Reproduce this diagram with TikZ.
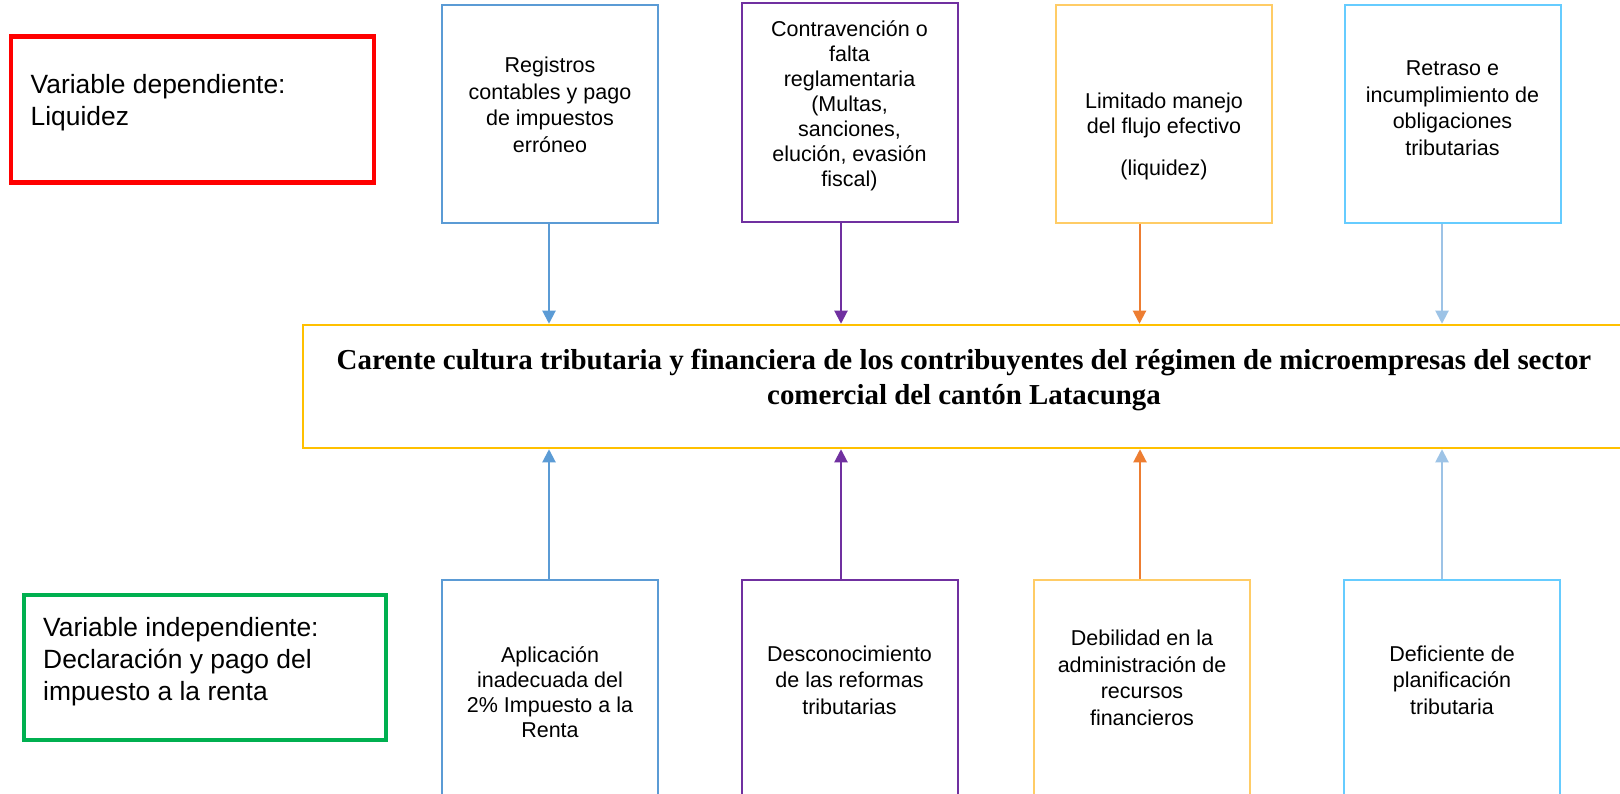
\documentclass[tikz,border=0pt]{standalone}
\usepackage{fontspec}
\setmainfont{Liberation Sans}
\newfontfamily\titulofont{Liberation Serif}
\usetikzlibrary{arrows.meta}

\definecolor{azul}{HTML}{5B9BD5}
\definecolor{morado}{HTML}{7030A0}
\definecolor{ambar}{HTML}{FFCC66}
\definecolor{naranja}{HTML}{ED7D31}
\definecolor{celeste}{HTML}{66CCFF}
\definecolor{celestegris}{HTML}{9DC3E6}
\definecolor{oro}{HTML}{FFC000}
\definecolor{rojo}{HTML}{FF0000}
\definecolor{verde}{HTML}{00B050}

\tikzset{
  caja/.style={draw, rectangle, line width=2pt, inner sep=0pt, minimum width=216pt},
  texto/.style={align=center, inner sep=0pt, font=\fontsize{21.5}{26.5}\selectfont},
  vartexto/.style={align=left, inner sep=0pt, anchor=west, font=\fontsize{26.4}{32}\selectfont},
  flecha/.style={-{Triangle[length=13pt,width=13pt]}, line width=2pt},
}

\begin{document}
\begin{tikzpicture}[x=1pt, y=-1pt]
\useasboundingbox (0,0) rectangle (1620,794);

% variables
\node[draw=rojo, line width=4.6pt, minimum width=363pt, minimum height=146pt, inner sep=0pt] (vdep) at (192.4,109.3) {};
\node[vartexto] (vdep-t) at (30.5,103) {Variable dependiente:\\Liquidez};
\node[draw=verde, line width=4.6pt, minimum width=362pt, minimum height=145pt, inner sep=0pt] (vindep) at (204.8,667.5) {};
\node[vartexto] (vindep-t) at (43,662) {Variable independiente:\\Declaración y pago del\\impuesto a la renta};

% problema central
\node[draw=oro, line width=2.5pt, minimum width=1323pt, minimum height=123pt, inner sep=0pt] (problema) at (964.5,386.5) {};
\node[align=center, inner sep=0pt, font=\titulofont\bfseries\fontsize{28.9}{35.7}\selectfont] (problema-t) at (964,380)
  {Carente cultura tributaria y financiera de los contribuyentes del régimen de microempresas del sector\\comercial del cantón Latacunga};

% efectos
\node[caja, draw=azul, minimum height=218pt] (efecto1) at (550,114) {};
\node[texto] (efecto1-t) at (550,105) {Registros\\contables y pago\\de impuestos\\erróneo};
\node[caja, draw=morado, minimum height=219pt] (efecto2) at (849.5,112.5) {};
\node[texto, font=\fontsize{21.5}{25}\selectfont] (efecto2-t) at (849.5,105.4) {Contravención o\\falta\\reglamentaria\\(Multas,\\sanciones,\\elución, evasión\\fiscal)};
\node[caja, draw=ambar, minimum height=218pt] (efecto3) at (1164,114) {};
\node[texto, font=\fontsize{21.5}{25}\selectfont] (efecto3-t) at (1164,136) {Limitado manejo\\del flujo efectivo\\[17pt](liquidez)};
\node[caja, draw=celeste, minimum height=218pt] (efecto4) at (1452.5,114) {};
\node[texto] (efecto4-t) at (1452.5,108) {Retraso e\\incumplimiento de\\obligaciones\\tributarias};

% causas
\node[caja, draw=azul, minimum height=240pt] (causa1) at (550,700) {};
\node[texto, font=\fontsize{21.5}{25}\selectfont] (causa1-t) at (550,692.5) {Aplicación\\inadecuada del\\2\% Impuesto a la\\Renta};
\node[caja, draw=morado, minimum height=240pt] (causa2) at (849.5,700) {};
\node[texto] (causa2-t) at (849.5,680) {Desconocimiento\\de las reformas\\tributarias};
\node[caja, draw=ambar, minimum height=240pt] (causa3) at (1142,700) {};
\node[texto] (causa3-t) at (1142,678) {Debilidad en la\\administración de\\recursos\\financieros};
\node[caja, draw=celeste, minimum height=240pt] (causa4) at (1452,700) {};
\node[texto] (causa4-t) at (1452,680) {Deficiente de\\planificación\\tributaria};

% flechas hacia el problema
\draw[flecha, azul] ([xshift=-1pt]efecto1.south) coordinate (e1) -- (e1 |- problema.north);
\draw[flecha, morado] ([xshift=-8.5pt]efecto2.south) coordinate (e2) -- (e2 |- problema.north);
\draw[flecha, naranja] ([xshift=-24.5pt]efecto3.south) coordinate (e3) -- (e3 |- problema.north);
\draw[flecha, celestegris] ([xshift=-10.5pt]efecto4.south) coordinate (e4) -- (e4 |- problema.north);

\draw[flecha, azul] ([xshift=-1pt]causa1.north) coordinate (c1) -- (c1 |- problema.south);
\draw[flecha, morado] ([xshift=-8.5pt]causa2.north) coordinate (c2) -- (c2 |- problema.south);
\draw[flecha, naranja] ([xshift=-2pt]causa3.north) coordinate (c3) -- (c3 |- problema.south);
\draw[flecha, celestegris] ([xshift=-10pt]causa4.north) coordinate (c4) -- (c4 |- problema.south);

\end{tikzpicture}
\end{document}
